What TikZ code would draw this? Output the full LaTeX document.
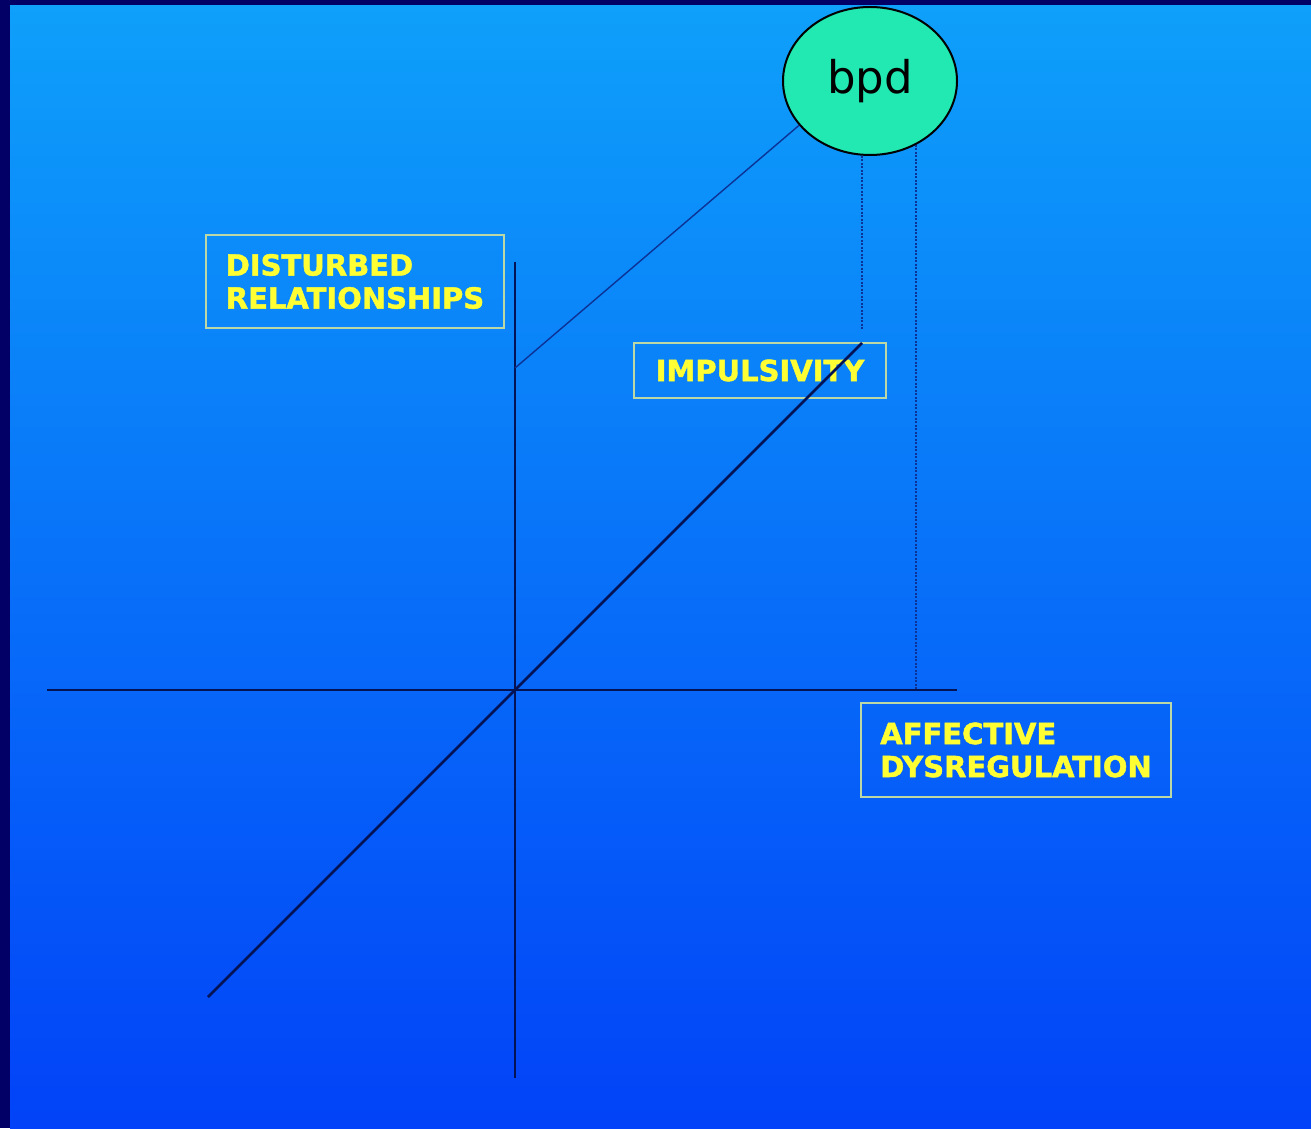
\documentclass[tikz,border=0pt]{standalone}
\usepackage{fontspec}
\usetikzlibrary{shapes.geometric}
\setsansfont{DejaVu Sans}
\newfontfamily\dimfont{DejaVu Sans Bold}[FakeBold=1.6]
\definecolor{slidenavy}{RGB}{2,0,102}
\definecolor{skytop}{RGB}{14,160,250}
\definecolor{skybottom}{RGB}{2,66,248}
\definecolor{axisblue}{RGB}{4,18,86}
\definecolor{tracerblue}{RGB}{12,50,150}
\definecolor{bpdgreen}{RGB}{34,232,178}
\definecolor{labelyellow}{RGB}{255,255,51}
\definecolor{labelrim}{RGB}{188,216,164}
\begin{document}
\begin{tikzpicture}[x=1pt,y=1pt,
  axisline/.style={color=axisblue,line width=2.6pt},
  tracer/.style={color=tracerblue,line width=1.4pt},
  dropline/.style={color=tracerblue,line width=2.2pt,dash pattern=on 2pt off 1.5pt},
  dimbox/.style={draw=labelrim,line width=2.8pt,text=labelyellow,align=left,inner sep=0pt,
    font=\dimfont\fontsize{29}{33}\selectfont}]
% Drawing background
\fill[color=slidenavy] (0.000000,0.000000) rectangle (1311.000000,1128.000000);
\shade[top color=skytop,bottom color=skybottom] (10.000000,0.000000) rectangle (1311.000000,1122.000000);
% Drawing axis ends
\coordinate (origin) at (515.000000,438.000000);
\coordinate (vtop) at (515.000000,866.000000);
\coordinate (vbottom) at (515.000000,50.000000);
\coordinate (hleft) at (47.000000,438.000000);
\coordinate (hright) at (957.000000,438.000000);
\coordinate (dlow) at (208.000000,131.000000);
\coordinate (dhigh) at (862.000000,785.000000);
\coordinate (tracerfoot) at (515.000000,760.000000);
\coordinate (impdrop) at (862.000000,798.000000);
\coordinate (affdrop) at (916.000000,438.000000);
% Drawing labels
\node[dimbox,minimum width=298pt,minimum height=93pt] (rel) at (355.000000,846.500000) {DISTURBED\\RELATIONSHIPS};
\node[dimbox,minimum width=252pt,minimum height=55pt] (imp) at (760.000000,757.500000) {IMPULSIVITY};
\node[dimbox,minimum width=310pt,minimum height=94pt] (aff) at (1016.000000,378.000000) {AFFECTIVE\\DYSREGULATION};
% Drawing bpd
\node[ellipse,draw=black,line width=2pt,fill=bpdgreen,minimum width=174pt,minimum height=148pt,inner sep=0pt,
  font=\sffamily\fontsize{45}{45}\selectfont] (bpd) at (870.000000,1047.000000) {\raisebox{-4pt}{bpd}};
% Done with labels; drawing axes
\draw[axisline] (vbottom) -- (vtop);
\draw[axisline] (hleft) -- (hright);
\draw[axisline] (dlow) -- (origin) -- (dhigh);
% Drawing projections
\draw[tracer] (tracerfoot) -- (bpd.212);
\draw[dropline] (bpd.-96 -| impdrop) -- (impdrop);
\draw[dropline] (bpd.-54 -| affdrop) -- (affdrop);
% Done with projections
\end{tikzpicture}
\end{document}
